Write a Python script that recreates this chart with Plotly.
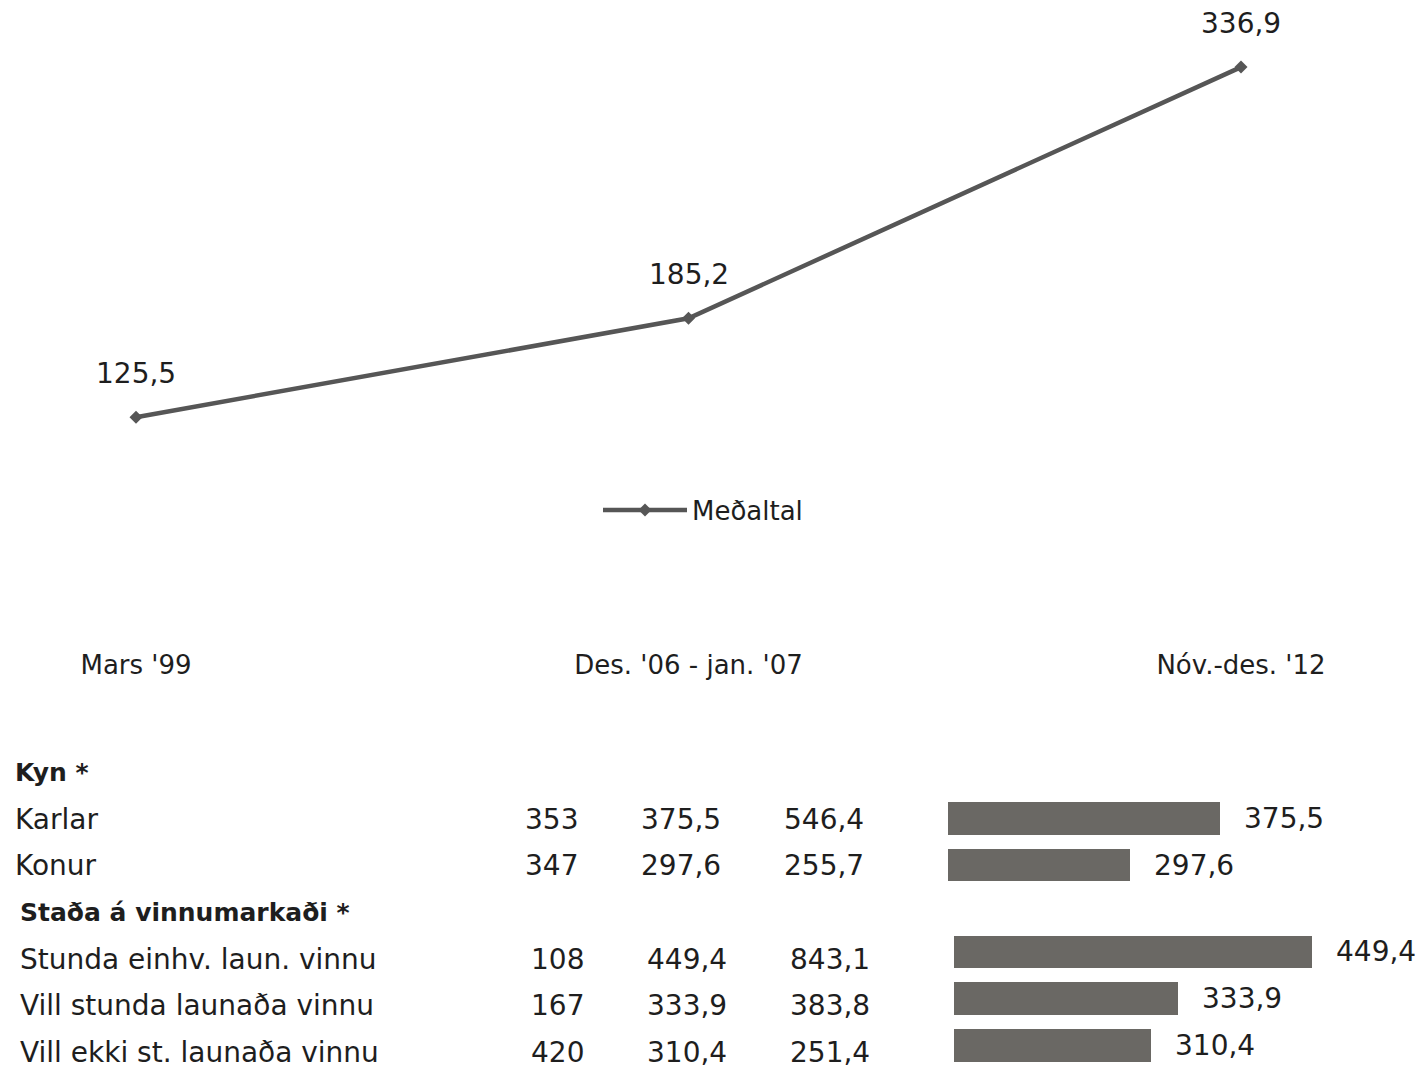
import plotly.graph_objects as go

# ---------------- data ----------------
periods = ["Mars '99", "Des. '06 - jan. '07", "Nóv.-des. '12"]
avg_values = [125.5, 185.2, 336.9]
series_name = "Meðaltal"

group1_header = "Kyn *"
group1_labels = ["Karlar", "Konur"]
group1_col1 = [353, 347]
group1_col2 = [375.5, 297.6]
group1_col3 = [546.4, 255.7]

group2_header = "Staða á vinnumarkaði *"
group2_labels = ["Stunda einhv. laun. vinnu", "Vill stunda launaða vinnu", "Vill ekki st. launaða vinnu"]
group2_col1 = [108, 167, 420]
group2_col2 = [449.4, 333.9, 310.4]
group2_col3 = [843.1, 383.8, 251.4]

# ---------------- styling ----------------
W, H = 1422, 1068
FONT = "DejaVu Sans"
TXT = "#1e1e1e"
LINE_C = "#565656"
BAR_C = "#6a6864"


def fmt(v):
    if float(v).is_integer():
        return str(int(v))
    return f"{v:.1f}".replace(".", ",")


fig = go.Figure()

# line chart
fig.add_trace(go.Scatter(
    x=periods, y=avg_values, name=series_name, mode="lines+markers",
    line=dict(color=LINE_C, width=4.5),
    marker=dict(symbol="diamond", size=10, color=LINE_C),
    xaxis="x", yaxis="y", hoverinfo="skip",
))
for p, v in zip(periods, avg_values):
    fig.add_annotation(x=p, y=v, xref="x", yref="y", text=fmt(v), showarrow=False,
                       yshift=44, font=dict(family=FONT, size=28, color=TXT))

# table rows
g1_rows = [1, 2]
g2_rows = [4, 5, 6]
lab_x = {1: 15, 2: 20}
col_x = {1: [525, 641, 784], 2: [531, 647, 790]}

def add_text(xs, ys, texts, size=28):
    fig.add_trace(go.Scatter(
        x=xs, y=ys, text=texts, mode="text", textposition="middle right",
        textfont=dict(family=FONT, size=size, color=TXT),
        xaxis="x2", yaxis="y2", showlegend=False, hoverinfo="skip",
    ))

add_text([lab_x[1]], [0], [f"<b>{group1_header}</b>"], size=25)
add_text([lab_x[1]] * 2, g1_rows, group1_labels)
add_text([lab_x[2]], [3], [f"<b>{group2_header}</b>"], size=25)
add_text([lab_x[2]] * 3, g2_rows, group2_labels)
for ci, col in enumerate([group1_col1, group1_col2, group1_col3]):
    add_text([col_x[1][ci]] * len(col), g1_rows, [fmt(v) for v in col])
for ci, col in enumerate([group2_col1, group2_col2, group2_col3]):
    add_text([col_x[2][ci]] * len(col), g2_rows, [fmt(v) for v in col])

# bars
fig.add_trace(go.Bar(
    x=group1_col2, y=g1_rows, orientation="h", marker=dict(color=BAR_C, line=dict(width=0)),
    width=0.7, xaxis="x3", yaxis="y4", showlegend=False, hoverinfo="skip",
))
fig.add_trace(go.Bar(
    x=group2_col2, y=g2_rows, orientation="h", marker=dict(color=BAR_C, line=dict(width=0)),
    width=0.7, xaxis="x4", yaxis="y3", showlegend=False, hoverinfo="skip",
))
for v, r in zip(group1_col2, g1_rows):
    fig.add_annotation(x=v, y=r, xref="x3", yref="y4", text=fmt(v), showarrow=False,
                       xanchor="left", xshift=22, font=dict(family=FONT, size=28, color=TXT))
for v, r in zip(group2_col2, g2_rows):
    fig.add_annotation(x=v, y=r, xref="x4", yref="y3", text=fmt(v), showarrow=False,
                       xanchor="left", xshift=22, font=dict(family=FONT, size=28, color=TXT))

# ---------------- axes ----------------
px_per_cat = 552.5
x0 = -136 / px_per_cat
y_zero_px, y_top_px = 625, 12.3
bar_scale = 1.162
bar_base = 141
row0_px, row_step = 775, 46.67
tbl_top_px = 740
r_top = (tbl_top_px - row0_px) / row_step
r_bot = (H - row0_px) / row_step
g1_shift = 0.07
g2_shift = 0.21

hidden = dict(visible=False, showgrid=False, zeroline=False, fixedrange=True)
tbl_dom = [0, 1 - tbl_top_px / H]

fig.update_layout(
    width=W, height=H, autosize=False,
    margin=dict(l=0, r=0, t=0, b=0),
    paper_bgcolor="white", plot_bgcolor="rgba(0,0,0,0)",
    font=dict(family=FONT, color=TXT),
    bargap=0,
    showlegend=True,
    legend=dict(orientation="h", x=598 / W, xanchor="left", y=1 - 510 / H, yanchor="middle",
                itemwidth=84, font=dict(family=FONT, size=26, color=TXT),
                bgcolor="rgba(0,0,0,0)"),
    xaxis=dict(domain=[0, 1], type="category", range=[x0, x0 + W / px_per_cat],
               showgrid=False, zeroline=False, showline=False, ticks="",
               tickfont=dict(family=FONT, size=26, color=TXT), ticklabelstandoff=22,
               anchor="y"),
    yaxis=dict(domain=[1 - y_zero_px / H, 1 - y_top_px / H],
               range=[0, (y_zero_px - y_top_px) / 1.656], **hidden),
    xaxis2=dict(domain=[0, 1], range=[0, W], anchor="y2", **hidden),
    yaxis2=dict(domain=tbl_dom, range=[r_bot, r_top], anchor="x2", **hidden),
    xaxis3=dict(domain=[948 / W, 1], range=[bar_base, bar_base + (W - 948) / bar_scale],
                anchor="y4", **hidden),
    xaxis4=dict(domain=[954 / W, 1], range=[bar_base, bar_base + (W - 954) / bar_scale],
                anchor="y3", **hidden),
    yaxis3=dict(domain=tbl_dom, range=[r_bot + g2_shift, r_top + g2_shift],
                anchor="x4", overlaying="y2", **hidden),
    yaxis4=dict(domain=tbl_dom, range=[r_bot + g1_shift, r_top + g1_shift],
                anchor="x3", overlaying="y2", **hidden),
)

fig.write_html("out.html", config={"displayModeBar": False},
               post_script="document.body.style.margin='0';")
